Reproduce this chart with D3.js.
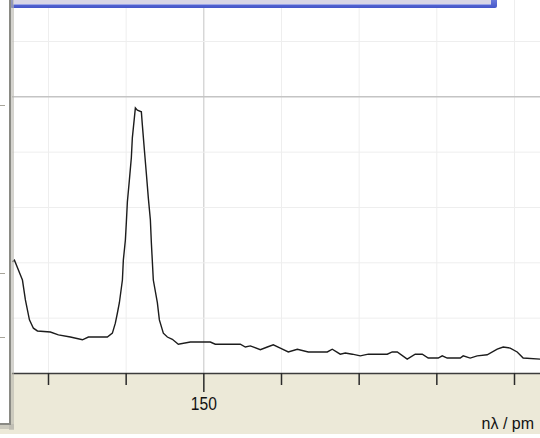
<!DOCTYPE html>
<html>
<head>
<meta charset="utf-8">
<script src="https://cdn.jsdelivr.net/npm/d3@7"></script>
<style>
  html, body { margin: 0; padding: 0; background: #fff; }
  svg { display: block; }
</style>
</head>
<body>
<svg id="chart" width="540" height="438"></svg>
<script>
// spectrum (nλ in pm, intensity in grid units)
const wavelength = [125.42, 125.68, 126.45, 126.71, 127.09, 127.61, 128.12, 128.64, 130.31, 131.34,
  132.88, 134.43, 135.20, 137.64, 138.29, 138.67, 138.93, 139.19, 139.58, 139.70,
  139.96, 140.09, 140.22, 140.48, 140.73, 140.86, 141.12, 141.25, 141.51, 142.02,
  142.15, 142.41, 142.66, 142.92, 143.18, 143.31, 143.56, 144.08, 144.34, 144.85,
  145.37, 146.01, 146.78, 148.33, 150.90, 151.54, 154.76, 155.41, 156.05, 157.34,
  158.24, 159.01, 159.91, 160.94, 162.10, 163.51, 165.96, 166.60, 167.63, 168.28,
  169.18, 170.21, 171.24, 173.68, 174.32, 174.97, 176.25, 177.28, 178.19, 178.96,
  180.24, 180.76, 181.40, 183.08, 183.46, 184.36, 185.26, 186.55, 187.84, 188.61,
  189.51, 190.41, 191.18, 193.37];
const intensity = [2.01, 2.04, 1.77, 1.68, 1.32, 0.96, 0.81, 0.76, 0.74, 0.69,
  0.65, 0.60, 0.65, 0.65, 0.72, 0.90, 1.08, 1.27, 1.68, 2.04,
  2.40, 2.73, 3.09, 3.49, 3.89, 4.25, 4.61, 4.79, 4.75, 4.72,
  4.48, 4.03, 3.61, 3.16, 2.77, 2.35, 1.68, 1.27, 0.96, 0.72,
  0.65, 0.61, 0.52, 0.56, 0.56, 0.52, 0.52, 0.47, 0.49, 0.42,
  0.47, 0.51, 0.45, 0.38, 0.43, 0.38, 0.38, 0.43, 0.34, 0.36,
  0.34, 0.31, 0.34, 0.34, 0.38, 0.38, 0.25, 0.34, 0.34, 0.27,
  0.27, 0.31, 0.27, 0.27, 0.31, 0.27, 0.31, 0.33, 0.43, 0.47,
  0.45, 0.38, 0.27, 0.25];

const xTicks = [130, 140, 150, 160, 170, 180, 190];
const xLabels = [{ value: 150, text: "150" }];
const yGrid = [1, 2, 3, 4, 5, 6];
const xMajor = 150, yMajor = 5;
const sideTicks = [4.84, 1.81, 0.65];   // ticks on the panel at the left edge
const xTitle = "nλ / pm";

const W = 540, H = 438;
const plot = { left: 12, right: W, top: 0, bottom: 373 };

const svg = d3.select("#chart");
const x = d3.scaleLinear().domain([130, 190]).range([48, 514]);
const y = d3.scaleLinear().domain([0, 6]).range([plot.bottom, 41]);

const defs = svg.append("defs");
defs.append("clipPath").attr("id", "plot-clip")
  .append("rect").attr("x", plot.left).attr("y", 0)
  .attr("width", plot.right - plot.left).attr("height", plot.bottom);
const blue = defs.append("linearGradient").attr("id", "blue-bar")
  .attr("x1", 0).attr("x2", 0).attr("y1", 0).attr("y2", 1);
blue.append("stop").attr("offset", "0%").attr("stop-color", "#8592e6");
blue.append("stop").attr("offset", "100%").attr("stop-color", "#4456c9");

// axis strip below the plot
svg.append("rect").attr("x", 0).attr("y", plot.bottom).attr("width", W).attr("height", 61)
  .attr("fill", "#ece9d8");

// grid
const g = svg.append("g").attr("clip-path", "url(#plot-clip)");
g.selectAll(".vgrid").data(xTicks).enter().append("line")
  .attr("x1", d => x(d) + 0.5).attr("x2", d => x(d) + 0.5)
  .attr("y1", 0).attr("y2", plot.bottom)
  .attr("stroke", d => d === xMajor ? "#c4c4c4" : "#eeeeee").attr("stroke-width", 1);
g.selectAll(".hgrid").data(yGrid).enter().append("line")
  .attr("x1", plot.left).attr("x2", plot.right)
  .attr("y1", d => y(d) + 0.5).attr("y2", d => y(d) + 0.5)
  .attr("stroke", d => d === yMajor ? "#c4c4c4" : "#eeeeee").attr("stroke-width", d => d === yMajor ? 1.5 : 1);

// spectrum
const pts = wavelength.map((w, i) => [w, intensity[i]]);
g.append("path").datum(pts)
  .attr("fill", "none").attr("stroke", "#1c1c1c").attr("stroke-width", 1.4)
  .attr("stroke-linejoin", "miter")
  .attr("d", d3.line().x(d => x(d[0])).y(d => y(d[1])));

// bottom axis
svg.append("line").attr("x1", plot.left).attr("x2", W)
  .attr("y1", plot.bottom + 0.5).attr("y2", plot.bottom + 0.5)
  .attr("stroke", "#3c3c3c").attr("stroke-width", 1.5);
svg.selectAll(".xtick").data(xTicks).enter().append("line")
  .attr("x1", d => x(d) + 0.5).attr("x2", d => x(d) + 0.5)
  .attr("y1", plot.bottom).attr("y2", d => d === xMajor ? plot.bottom + 19 : plot.bottom + 12)
  .attr("stroke", "#2a2a2a").attr("stroke-width", 1.5);
svg.selectAll(".xlabel").data(xLabels).enter().append("text")
  .attr("x", d => x(d.value) + 0.5).attr("y", 410)
  .attr("text-anchor", "middle")
  .attr("font-family", "Liberation Sans, Arial, sans-serif").attr("font-size", 18)
  .attr("textLength", 26).attr("lengthAdjust", "spacingAndGlyphs")
  .attr("fill", "#111").text(d => d.text);
svg.append("text").attr("x", 534).attr("y", 429).attr("text-anchor", "end")
  .attr("font-family", "Liberation Sans, Arial, sans-serif").attr("font-size", 16)
  .attr("fill", "#111").text(xTitle);

// blue window edge at the top
svg.append("rect").attr("x", 10).attr("y", -6).attr("width", 487).attr("height", 14)
  .attr("rx", 2).attr("fill", "url(#blue-bar)");
svg.append("rect").attr("x", 13).attr("y", -6).attr("width", 478).attr("height", 10)
  .attr("fill", "#d8d6e6");
svg.append("line").attr("x1", 13).attr("x2", 491).attr("y1", 4.5).attr("y2", 4.5)
  .attr("stroke", "#9aa4e8").attr("stroke-width", 1);

// side panel on the left
svg.append("rect").attr("x", 9).attr("y", 0).attr("width", 5).attr("height", 430)
  .attr("fill", "#b8b6ad").attr("opacity", 0.6);
svg.append("rect").attr("x", 0).attr("y", 424).attr("width", 14).attr("height", 5)
  .attr("fill", "#b8b6ad").attr("opacity", 0.6);
svg.append("rect").attr("x", -2).attr("y", -2).attr("width", 12).attr("height", 426)
  .attr("fill", "#fff").attr("stroke", "#8a8a84").attr("stroke-width", 2);
svg.selectAll(".stick").data(sideTicks).enter().append("line")
  .attr("x1", 0).attr("x2", 5).attr("y1", d => Math.round(y(d)) + 0.5).attr("y2", d => Math.round(y(d)) + 0.5)
  .attr("stroke", "#a8a59a").attr("stroke-width", 1);
</script>
</body>
</html>
